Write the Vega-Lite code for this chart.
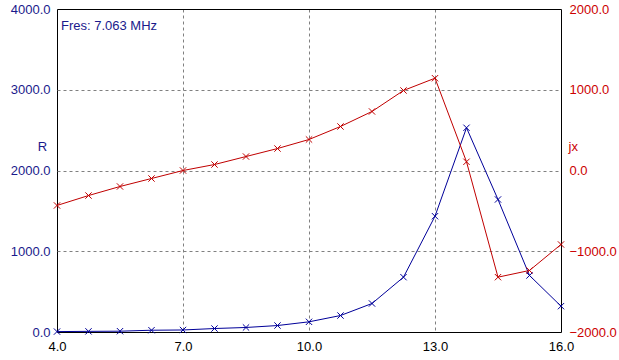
{
  "$schema": "https://vega.github.io/schema/vega-lite/v6.json",
  "autosize": "none",
  "width": 504,
  "height": 323,
  "padding": {"left": 57, "top": 9, "right": 58, "bottom": 28},
  "background": "white",
  "config": {
    "view": {"stroke": null},
    "font": "Liberation Sans",
    "axis": {"labelFont": "Liberation Sans", "labelFontSize": 13, "titleFont": "Liberation Sans", "titleFontSize": 13, "titleFontWeight": "normal", "ticks": false, "tickSize": 0, "domain": false, "labelFlush": false, "labelOverlap": false}
  },
  "data": {
    "values": [
      {"f": 4.0, "R": 5, "jx": -433},
      {"f": 4.75, "R": 8, "jx": -310},
      {"f": 5.5, "R": 10, "jx": -198},
      {"f": 6.25, "R": 22, "jx": -99},
      {"f": 7.0, "R": 25, "jx": 0},
      {"f": 7.75, "R": 43, "jx": 74},
      {"f": 8.5, "R": 56, "jx": 173},
      {"f": 9.25, "R": 80, "jx": 272},
      {"f": 10.0, "R": 126, "jx": 384},
      {"f": 10.75, "R": 204, "jx": 545},
      {"f": 11.5, "R": 353, "jx": 731},
      {"f": 12.25, "R": 679, "jx": 991},
      {"f": 13.0, "R": 1434, "jx": 1143},
      {"f": 13.75, "R": 2529, "jx": 108},
      {"f": 14.5, "R": 1641, "jx": -1321},
      {"f": 15.25, "R": 700, "jx": -1238},
      {"f": 16.0, "R": 320, "jx": -916}
    ]
  },
  "layer": [
    {
      "layer": [
        {
          "mark": {"type": "line", "color": "#000099", "strokeWidth": 1,
            "point": {"shape": "M-1,-1L1,1M-1,1L1,-1", "filled": false, "size": 40, "strokeWidth": 1, "color": "#000099"}},
          "encoding": {
            "x": {"field": "f", "type": "quantitative", "scale": {"domain": [4, 16], "nice": false, "zero": false},
              "axis": {"orient": "bottom", "values": [4, 7, 10, 13, 16], "format": ".1f", "title": null, "labelColor": "black", "labelPadding": 8,
                "grid": true,
                "gridColor": {"condition": {"test": "datum.value === 4 || datum.value === 16", "value": "black"}, "value": "#808080"},
                "gridDash": {"condition": {"test": "datum.value === 4 || datum.value === 16", "value": []}, "value": [3, 3]},
                "gridWidth": 1, "gridOpacity": 1}},
            "y": {"field": "R", "type": "quantitative", "scale": {"domain": [0, 4000], "nice": false},
              "axis": {"orient": "left", "values": [0, 1000, 2000, 3000, 4000], "format": ".1f", "labelColor": "#1a1a8c", "labelPadding": 7,
                "title": "R", "titleColor": "#1a1a8c", "titleAngle": 0, "titleX": -15, "titleY": 141, "titleAlign": "center", "titleBaseline": "alphabetic",
                "grid": true,
                "gridColor": {"condition": {"test": "datum.value === 0 || datum.value === 4000", "value": "black"}, "value": "#808080"},
                "gridDash": {"condition": {"test": "datum.value === 0 || datum.value === 4000", "value": []}, "value": [3, 3]},
                "gridWidth": 1, "gridOpacity": 1}}
          }
        },
        {
          "data": {"values": [{"label": "Fres: 7.063 MHz", "f": 4.0, "R": 4000}]},
          "mark": {"type": "text", "align": "left", "baseline": "alphabetic", "dx": 4, "dy": 21, "font": "Liberation Sans", "fontSize": 13, "color": "#1a1a8c"},
          "encoding": {
            "x": {"field": "f", "type": "quantitative"},
            "y": {"field": "R", "type": "quantitative"},
            "text": {"field": "label"}
          }
        }
      ]
    },
    {
      "mark": {"type": "line", "color": "#c00000", "strokeWidth": 1,
        "point": {"shape": "M-1,-1L1,1M-1,1L1,-1", "filled": false, "size": 40, "strokeWidth": 1, "color": "#c00000"}},
      "encoding": {
        "x": {"field": "f", "type": "quantitative"},
        "y": {"field": "jx", "type": "quantitative", "scale": {"domain": [-2000, 2000], "nice": false},
          "axis": {"orient": "right", "values": [-2000, -1000, 0, 1000, 2000], "format": ".1f", "labelColor": "#cc0000", "labelPadding": 8,
            "title": "jx", "titleColor": "#cc0000", "titleAngle": 0, "titleX": 7, "titleY": 141, "titleAlign": "left", "titleBaseline": "alphabetic",
            "grid": false}}
      }
    }
  ],
  "resolve": {"scale": {"y": "independent"}}
}
